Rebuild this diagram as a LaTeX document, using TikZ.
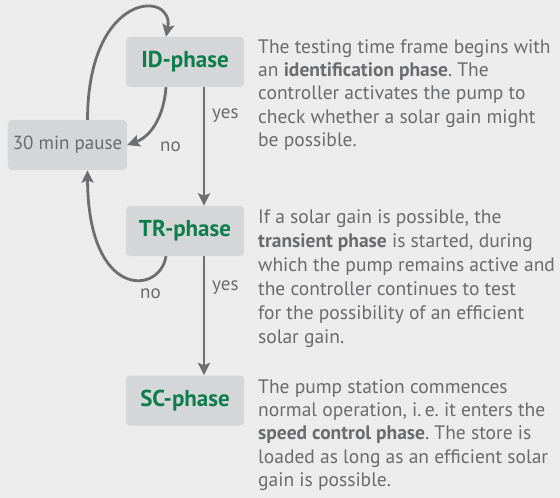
\documentclass[tikz,border=0pt]{standalone}
\usepackage{fontspec}
\setmainfont{PT Sans}
\frenchspacing
\usetikzlibrary{arrows.meta,calc}
\definecolor{bg}{HTML}{ECECEC}
\definecolor{boxfill}{HTML}{D5D6D7}
\definecolor{txtgray}{HTML}{6A6B6D}
\definecolor{arrgray}{HTML}{6D6E70}
\definecolor{phasegreen}{HTML}{0E7D4C}
\tikzset{
  phasebox/.style={fill=boxfill, rounded corners=4bp, minimum width=118bp, minimum height=50bp, inner sep=0pt,
    text=phasegreen, font=\fontsize{23bp}{26bp}\selectfont\bfseries},
  pausebox/.style={fill=boxfill, rounded corners=4bp, minimum width=119bp, minimum height=50bp, inner sep=0pt,
    text=txtgray, font=\fontsize{19bp}{23bp}\selectfont},
  arr/.style={draw=arrgray, line width=2.8bp, -{Stealth[length=12.5bp,width=12bp,inset=2.5bp]}},
  lbl/.style={text=txtgray, inner sep=0pt, anchor=base west, font=\fontsize{19bp}{23bp}\selectfont},
  body/.style={text=txtgray, inner sep=0pt, anchor=base west},
}
\begin{document}
\begin{tikzpicture}[x=1bp,y=-1bp]
\fill[bg] (0,0) rectangle (560,498);
\useasboundingbox (0,0) rectangle (560,498);

\node[phasebox] (ID) at (185,62) {ID-phase};
\node[pausebox] (pause) at (67.5,145) {30 min pause};
\node[phasebox] (TR) at (185,231) {TR-phase};
\node[phasebox] (SC) at (185,400.5) {SC-phase};

\draw[arr] ([xshift=19bp]ID.south) -- ([xshift=19bp]TR.north);
\draw[arr] ([xshift=19bp]TR.south) -- ([xshift=19bp]SC.north);
\draw[arr] ([xshift=-19bp]ID.south) .. controls (164,115) and (152,136) .. (pause.east);
\draw[arr] ([xshift=20bp]pause.north) .. controls (88,-10) and (175,-10) .. ([xshift=-19bp]ID.north);
\draw[arr] ([xshift=-19bp]TR.south) .. controls (160,295) and (88,300) .. ([xshift=20bp]pause.south);

\node[lbl] (yes1) at (212,119) {yes};
\node[lbl] (no1) at (160,152) {no};
\node[lbl] (yes2) at (212,290) {yes};
\node[lbl] (no2) at (140,298) {no};

\node[body] (t1) at (258,53.3) {\parbox[t]{302bp}{\fontsize{19.5bp}{23.3bp}\selectfont
The testing time frame begins with\newline
an \textbf{identification phase}. The\newline
controller activates the pump to\newline
check whether a solar gain might\newline
be possible.}};
\node[body] (t2) at (258,223.3) {\parbox[t]{302bp}{\fontsize{19.5bp}{24bp}\selectfont
If a solar gain is possible, the\newline
\textbf{transient phase} is started, during\newline
which the pump remains active and\newline
the controller continues to test\newline
for the possibility of an efficient\newline
solar gain.}};
\node[body] (t3) at (258,393.3) {\parbox[t]{302bp}{\fontsize{19.5bp}{23.3bp}\selectfont
The pump station commences\newline
normal operation, i.\,e. it enters the\newline
\textbf{speed control phase}. The store is\newline
loaded as long as an efficient solar\newline
gain is possible.}};
\end{tikzpicture}
\end{document}
